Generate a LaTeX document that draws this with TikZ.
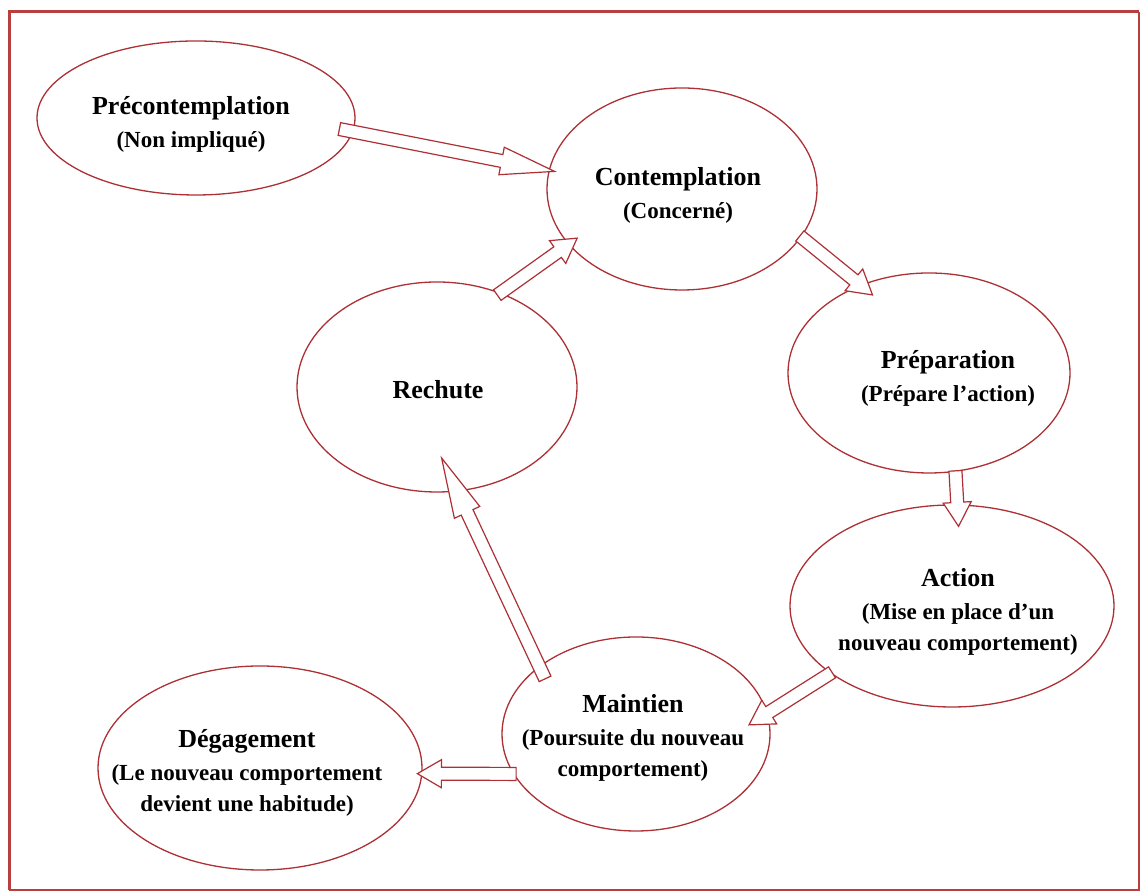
\documentclass[tikz,border=0pt]{standalone}
\usepackage{fontspec}
\setmainfont{Liberation Serif}
\usetikzlibrary{shapes.geometric,calc}

\definecolor{stagered}{RGB}{172,48,52}
\definecolor{framered}{RGB}{185,62,62}

\tikzset{
  stage/.style={ellipse, draw=stagered, line width=1.3pt, inner sep=0pt},
  stagetext/.style={font=\bfseries\fontsize{23}{31}\selectfont, align=center, inner sep=0pt},
  flowline/.style={draw=stagered, fill=white, line width=1.2pt, line join=miter}
}

\newcommand{\stagename}[1]{{\fontsize{26}{31}\selectfont #1}}

% [head length]{tail into node}{tip into node}{from}{to}
\newcommand{\flowarrow}[5][24]{%
  \draw[flowline] let \p1=(#4), \p2=(#5),
      \n1={atan2(\y2-\y1,\x2-\x1)},
      \n2={veclen(\x2-\x1,\y2-\y1)+#3pt} in
    ([shift={(\p1)},rotate=\n1]-#2pt,-6.5pt) --
    ([shift={(\p1)},rotate=\n1]\n2-#1pt,-6.5pt) --
    ([shift={(\p1)},rotate=\n1]\n2-#1pt,-14pt) --
    ([shift={(\p1)},rotate=\n1]\n2,0pt) --
    ([shift={(\p1)},rotate=\n1]\n2-#1pt,14pt) --
    ([shift={(\p1)},rotate=\n1]\n2-#1pt,6.5pt) --
    ([shift={(\p1)},rotate=\n1]-#2pt,6.5pt) -- cycle;
}

\begin{document}
\begin{tikzpicture}[x=1pt, y=1pt]
  \useasboundingbox (0,0) rectangle (1141,893);

  % frame
  \draw[framered, line width=3pt] (9,3) -- (9,881) -- (1139,881);
  \draw[framered, line width=1.2pt] (1139,881) -- (1139,3) -- (9,3);

  % stages
  \node[stage, minimum width=318pt, minimum height=154pt] (pre) at (196,775) {};
  \node[stage, minimum width=270pt, minimum height=202pt] (con) at (682,704) {};
  \node[stage, minimum width=280pt, minimum height=210pt] (rech) at (437,506) {};
  \node[stage, minimum width=282pt, minimum height=200pt] (prep) at (929,520) {};
  \node[stage, minimum width=324pt, minimum height=202pt] (act) at (952,287) {};
  \node[stage, minimum width=268pt, minimum height=194pt] (main) at (636,159) {};
  \node[stage, minimum width=324pt, minimum height=204pt] (deg) at (260,125) {};

  \node[stagetext] (pre-t) at (191,769) {\stagename{Précontemplation}\\[2pt] (Non impliqué)};
  \node[stagetext] (con-t) at (678,698) {\stagename{Contemplation}\\[2pt] (Concerné)};
  \node[stagetext] (rech-t) at (438,503) {\stagename{Rechute}};
  \node[stagetext] (prep-t) at (948,515) {\stagename{Préparation}\\[2pt] (Prépare l’action)};
  \node[stagetext] (act-t) at (958,281) {\stagename{Action}\\[2pt] (Mise en place d’un\\ nouveau comportement)};
  \node[stagetext] (main-t) at (633,155) {\stagename{Maintien}\\[2pt] (Poursuite du nouveau\\ comportement)};
  \node[stagetext] (deg-t) at (247,120) {\stagename{Dégagement}\\[2pt] (Le nouveau comportement\\ devient une habitude)};

  % transitions
  \flowarrow[54]{14}{6}{pre.-5}{con.172}
  \flowarrow{2}{16}{con.-22}{prep.128}
  \flowarrow{1}{22}{prep.-75}{act.87}
  \flowarrow{2}{22}{act.209}{main.9}
  \flowarrow[60]{14}{37}{main.145}{rech.-79}
  \flowarrow{4}{11}{rech.56}{con.206}
  \flowarrow{3}{5}{main.198}{deg.-2}
\end{tikzpicture}
\end{document}
